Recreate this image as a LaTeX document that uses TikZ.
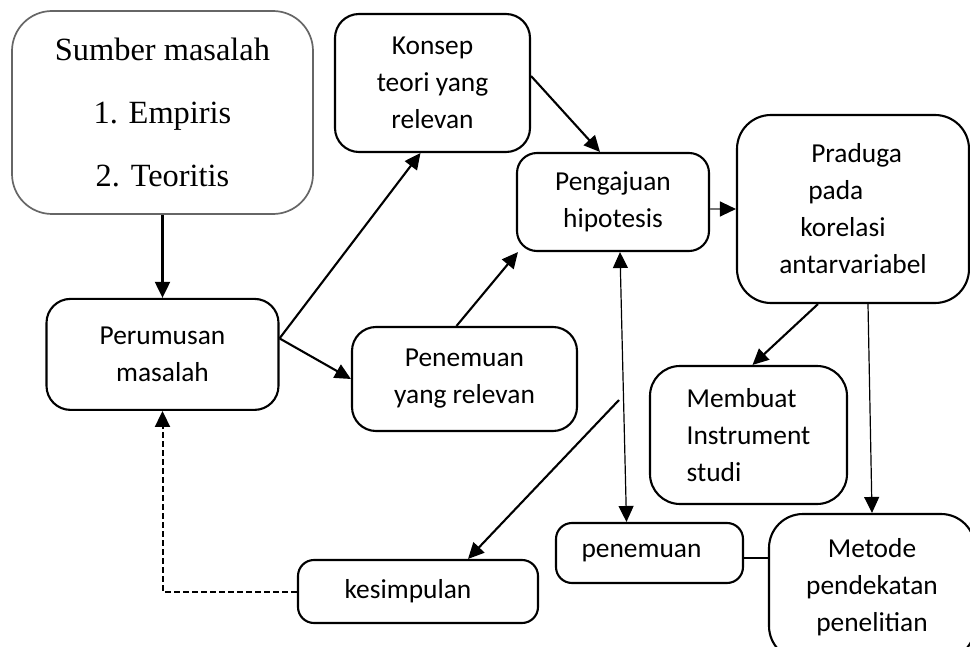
\documentclass[tikz,border=0pt]{standalone}
\usepackage{fontspec}
\setmainfont{Carlito}
\newfontfamily\timesfont{Liberation Serif}
\usetikzlibrary{positioning,arrows.meta}

\begin{document}
\begin{tikzpicture}[x=0.5pt,y=-0.5pt,
			>={Triangle[length=8pt,width=7.5pt]},
			line width=1.05pt,
			box/.style={
				draw,
				rounded corners=12pt,
				align=center,
				inner sep=0pt,
				font=\fontsize{13.7}{18.5}\selectfont
			},
			fine/.style={line width=0.6pt}]
			
			\path[use as bounding box,clip] (0,0) rectangle (970,647);
			\fill[white] (0,0) rectangle (970,647);
			
			\node (sumber)[box,draw=black!60,line width=0.85pt,rounded corners=20pt,
				minimum width=150.5pt,minimum height=101.5pt,
				font=\timesfont\fontsize{16.2}{31.5}\selectfont]
				at (162.5,112.5){Sumber masalah\\1. Empiris\\2. Teoritis};
			
			\node (konsep)[box,minimum width=97.5pt,minimum height=69pt]
				at (432.5,83){Konsep\\teori yang\\relevan};
			
			\node (pengajuan)[box,rounded corners=10pt,minimum width=96pt,minimum height=49pt]
				at (613,202){Pengajuan\\hipotesis};
			
			\node (praduga)[box,align=left,rounded corners=17pt,minimum width=116pt,minimum height=94pt]
				at (853,209){\hspace*{16pt}Praduga\\\hspace*{14.5pt}pada\\\hspace*{10.5pt}korelasi\\antarvariabel};
			
			\node (perumusan)[box,below=41.5pt of sumber,minimum width=116pt,minimum height=55.5pt]
				{Perumusan\\masalah};
			
			\node (penemuanrel)[box,minimum width=112.5pt,minimum height=52pt]
				at (464.5,379){Penemuan\\yang relevan};
			
			\node (membuat)[box,align=left,rounded corners=15pt,minimum width=98.5pt,minimum height=69pt]
				at (748.5,435){Membuat\\Instrument\\studi};
			
			\node (penemuan)[box,rounded corners=8pt,minimum width=93.5pt,minimum height=30pt]
				at (649.5,553){penemuan\hspace*{8pt}};
			
			\node (metode)[box,rounded corners=17pt,minimum width=103pt,minimum height=73pt]
				at (872,587){Metode\\pendekatan\\penelitian};
			
			\node (kesimpulan)[box,rounded corners=8pt,minimum width=120pt,minimum height=31.5pt]
				at (418,591.5){kesimpulan\hspace*{10pt}};
			
			\coordinate (fork) at ([yshift=8pt]perumusan.east);
			\coordinate (cut) at (619,400);
			\coordinate (link) at ([yshift=-2.5pt]penemuan.east);
			
			\draw[->](sumber)--(perumusan);
			
			\draw[->](fork)--([xshift=-6pt]konsep.south);
			
			\draw[->](fork)--(penemuanrel.west);
			
			\draw[->]([xshift=-4pt]penemuanrel.north)--([xshift=1pt]pengajuan.south west);
			
			\draw[->]([yshift=3.5pt]konsep.east)--([xshift=-6.5pt]pengajuan.north);
			
			\draw[-{Triangle[length=8pt,width=7.5pt,black]},fine,black!55](pengajuan.east |- praduga.west)--(praduga.west);
			
			\draw[->]([xshift=-17.5pt]praduga.south)--([xshift=2pt]membuat.north);
			
			\draw[->,fine]([xshift=7.5pt]praduga.south)--(metode.north);
			
			\draw[<->,fine]([xshift=3.5pt]pengajuan.south)--([xshift=-11.5pt]penemuan.north);
			
			\draw[fine](link)--(link -| metode.west);
			
			\draw[->](cut)--([xshift=25pt]kesimpulan.north);
			
			\draw[->,line width=1pt,dash pattern=on 3pt off 1.5pt](kesimpulan.west)-|(perumusan.south);
			
		\end{tikzpicture}
\end{document}
